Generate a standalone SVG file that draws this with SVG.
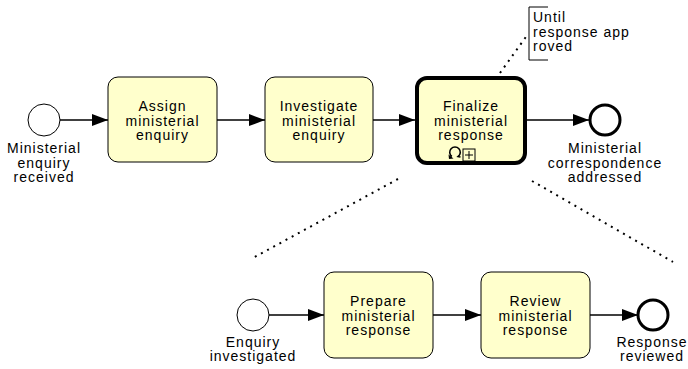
<svg xmlns="http://www.w3.org/2000/svg" width="688" height="369" viewBox="0 0 688 369">
<style>
.task{fill:#ffffcc;stroke:#000;stroke-width:1}
.ev{fill:#fff;stroke:#000;stroke-width:1}
.end{fill:#fff;stroke:#000;stroke-width:3}
.lbl{font-family:"Liberation Sans",Arial,sans-serif;font-size:14px;letter-spacing:1px;fill:#000;text-anchor:middle}
.ann{font-family:"Liberation Sans",Arial,sans-serif;font-size:14px;letter-spacing:1px;fill:#000}
.flow{stroke:#000;stroke-width:1.6;fill:none;marker-end:url(#arr)}
.dot{stroke:#000;stroke-width:2;stroke-dasharray:2 5;fill:none}
</style>
<defs>
<marker id="arr" markerWidth="16" markerHeight="12" refX="16" refY="6" orient="auto" markerUnits="userSpaceOnUse">
<path d="M0,0 L16,6 L0,12 Z" fill="#000"/>
</marker>
</defs>
<rect width="688" height="369" fill="#fff"/>
<g id="connectors">
<line class="flow" x1="60" y1="120" x2="108" y2="120"/>
<line class="flow" x1="217" y1="120" x2="265" y2="120"/>
<line class="flow" x1="373" y1="120" x2="415" y2="120"/>
<line class="flow" x1="527" y1="120" x2="589" y2="120"/>
<line class="flow" x1="269" y1="315" x2="324" y2="315"/>
<line class="flow" x1="433" y1="315" x2="481" y2="315"/>
<line class="flow" x1="590" y1="315" x2="638" y2="315"/>
<line class="dot" x1="500" y1="73" x2="528" y2="34"/>
<line class="dot" x1="398" y1="179" x2="251" y2="259"/>
<line class="dot" x1="532" y1="181" x2="673" y2="262"/>
</g>
<g id="start1">
<circle class="ev" cx="44" cy="120" r="16"/>
<text class="lbl" x="44" y="153">Ministerial</text>
<text class="lbl" x="44" y="167.5">enquiry</text>
<text class="lbl" x="44" y="182">received</text>
</g>
<g id="assign">
<rect class="task" x="108" y="77" width="109" height="85" rx="10"/>
<text class="lbl" x="162.5" y="111">Assign</text>
<text class="lbl" x="162.5" y="125.5">ministerial</text>
<text class="lbl" x="162.5" y="140">enquiry</text>
</g>
<g id="investigate">
<rect class="task" x="265" y="77" width="108" height="85" rx="10"/>
<text class="lbl" x="319" y="111">Investigate</text>
<text class="lbl" x="319" y="125.5">ministerial</text>
<text class="lbl" x="319" y="140">enquiry</text>
</g>
<g id="finalize">
<rect x="417" y="78" width="108" height="85" rx="10" fill="#ffffcc" stroke="#000" stroke-width="4"/>
<text class="lbl" x="471" y="111">Finalize</text>
<text class="lbl" x="471" y="125.5">ministerial</text>
<text class="lbl" x="471" y="140">response</text>
<path d="M451.8,156.5 A5.3,5.3 0 1 1 458.2,156.5 L460.5,157" fill="none" stroke="#000" stroke-width="1.6"/>
<path d="M448.5,154.5 L453.5,158.5 L449,159 Z" fill="#000"/>
<rect x="463" y="149" width="12" height="12" fill="none" stroke="#000" stroke-width="1"/>
<line x1="469" y1="151" x2="469" y2="159" stroke="#000"/>
<line x1="465" y1="155" x2="473" y2="155" stroke="#000"/>
</g>
<g id="end1">
<circle class="end" cx="605" cy="120" r="15"/>
<text class="lbl" x="605" y="153">Ministerial</text>
<text class="lbl" x="605" y="167.5">correspondence</text>
<text class="lbl" x="605" y="182">addressed</text>
</g>
<g id="annotation">
<path d="M548,7 L529,7 L529,60 L548,60" fill="none" stroke="#000" stroke-width="1"/>
<text class="ann" x="533" y="22">Until</text>
<text class="ann" x="533" y="36.5">response app</text>
<text class="ann" x="533" y="51">roved</text>
</g>
<g id="start2">
<circle class="ev" cx="253" cy="315" r="16"/>
<text class="lbl" x="253" y="346.5">Enquiry</text>
<text class="lbl" x="253" y="361">investigated</text>
</g>
<g id="prepare">
<rect class="task" x="324" y="272" width="109" height="86" rx="10"/>
<text class="lbl" x="378.5" y="306">Prepare</text>
<text class="lbl" x="378.5" y="320.5">ministerial</text>
<text class="lbl" x="378.5" y="335">response</text>
</g>
<g id="review">
<rect class="task" x="481" y="272" width="109" height="86" rx="10"/>
<text class="lbl" x="535.5" y="306">Review</text>
<text class="lbl" x="535.5" y="320.5">ministerial</text>
<text class="lbl" x="535.5" y="335">response</text>
</g>
<g id="end2">
<circle class="end" cx="653" cy="315" r="15"/>
<text class="lbl" x="652" y="346.5">Response</text>
<text class="lbl" x="652" y="361">reviewed</text>
</g>
</svg>
